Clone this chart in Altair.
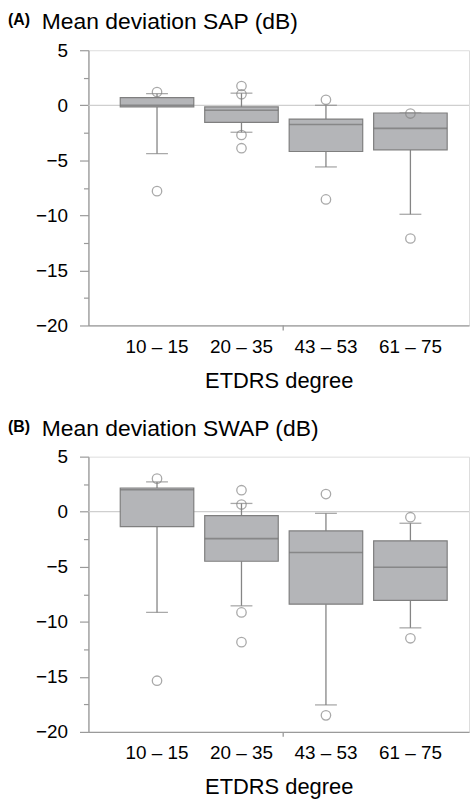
import altair as alt
import pandas as pd

categories = ["10 – 15", "20 – 35", "43 – 53", "61 – 75"]

# (A) SAP mean deviation, box statistics per ETDRS ring
sap_low = [-4.4, -2.45, -5.6, -9.9]
sap_q1 = [-0.15, -1.55, -4.2, -4.05]
sap_median = [0.0, -0.45, -1.75, -2.1]
sap_q3 = [0.7, -0.15, -1.25, -0.7]
sap_high = [1.05, 1.1, 0.0, -0.7]
sap_outlier_cat = ["10 – 15", "10 – 15", "20 – 35", "20 – 35", "20 – 35",
                   "20 – 35", "43 – 53", "43 – 53", "61 – 75", "61 – 75"]
sap_outlier_val = [1.2, -7.8, 1.75, 1.0, -2.7, -3.9, 0.5, -8.55, -0.75, -12.1]

# (B) SWAP mean deviation
swap_low = [-9.15, -8.55, -17.55, -10.55]
swap_q1 = [-1.35, -4.5, -8.4, -8.05]
swap_median = [2.0, -2.45, -3.7, -5.05]
swap_q3 = [2.15, -0.35, -1.75, -2.65]
swap_high = [2.7, 0.75, -0.15, -1.05]
swap_outlier_cat = ["10 – 15", "10 – 15", "20 – 35", "20 – 35", "20 – 35",
                    "20 – 35", "43 – 53", "43 – 53", "61 – 75", "61 – 75"]
swap_outlier_val = [3.0, -15.35, 1.95, 0.65, -9.15, -11.85, 1.6, -18.5, -0.5, -11.5]

y_ticks = [-20, -17.5, -15, -12.5, -10, -7.5, -5, -2.5, 0, 2.5, 5]

FONT = "Liberation Sans"
AXIS_GREY = "#9a9a9a"
LINE_GREY = "#858585"
W, H = 383, 277


def x_enc():
    return alt.X(
        "cat:N",
        sort=categories,
        scale=alt.Scale(paddingInner=0.1294, paddingOuter=0.3176, align=0.593),
        axis=alt.Axis(
            title="ETDRS degree", labelAngle=0, ticks=False, labelPadding=12,
            labelFontSize=19, titleFontSize=22, titleFontWeight="normal",
            titlePadding=14, domainColor=AXIS_GREY, domainWidth=1.3,
            labelColor="black", titleColor="black", labelFont=FONT, titleFont=FONT,
        ),
    )


def y_enc(field):
    return alt.Y(
        f"{field}:Q",
        scale=alt.Scale(domain=[-20, 5], nice=False, zero=False),
        axis=alt.Axis(
            title=None, values=y_ticks, grid=False, labelOverlap=False,
            labelExpr="datum.value % 5 === 0 ? datum.label : ''",
            tickSize={"condition": {"test": "datum.value % 5 === 0", "value": 9}, "value": 5},
            tickColor=AXIS_GREY, domainColor=AXIS_GREY, domainWidth=1.3, tickWidth=1.2,
            labelPadding=12, labelFontSize=19, labelColor="black", labelFont=FONT,
        ),
    )


def panel(letter, title, low, q1, med, q3, high, ocat, oval):
    stats = pd.DataFrame({"cat": categories, "low": low, "q1": q1,
                          "med": med, "q3": q3, "high": high})
    outliers = pd.DataFrame({"cat": ocat, "val": oval})
    base = alt.Chart(stats)

    zero = alt.Chart(pd.DataFrame({"z": [0]})).mark_rule(
        color="#cfcfcf", strokeWidth=1.3
    ).encode(y=y_enc("z"))

    lower = base.mark_rule(color=LINE_GREY, strokeWidth=1.3).encode(
        x=x_enc(), y=y_enc("low"), y2="q1:Q")
    upper = base.mark_rule(color=LINE_GREY, strokeWidth=1.3).encode(
        x=x_enc(), y=y_enc("q3"), y2="high:Q")
    cap_low = base.mark_tick(color=LINE_GREY, size=22, thickness=1.3).encode(
        x=x_enc(), y=y_enc("low"))
    cap_high = base.mark_tick(color=LINE_GREY, size=22, thickness=1.3).encode(
        x=x_enc(), y=y_enc("high"))
    box = base.mark_bar(fill="#b4b5b8", stroke="#7f7f7f", strokeWidth=1.2).encode(
        x=x_enc(), y=y_enc("q1"), y2="q3:Q")
    median = base.mark_tick(color="#737373", size=74, thickness=1.6).encode(
        x=x_enc(), y=y_enc("med"))
    points = alt.Chart(outliers).mark_point(
        shape="circle", filled=False, color=LINE_GREY, size=90, strokeWidth=1.3
    ).encode(x=x_enc(), y=y_enc("val"))

    # panel heading: small bold letter followed by the quantity name
    letter_text = alt.Chart(pd.DataFrame({"t": [letter]})).mark_text(
        font=FONT, fontSize=16, fontWeight="bold", align="left",
        baseline="alphabetic", color="black"
    ).encode(text="t:N", x=alt.value(-81), y=alt.value(-25))
    heading = alt.Chart(pd.DataFrame({"t": [title]})).mark_text(
        font=FONT, fontSize=23, align="left", baseline="alphabetic", color="black"
    ).encode(text="t:N", x=alt.value(-47), y=alt.value(-21))

    centre_tick = alt.Chart(pd.DataFrame({"t": [0]})).mark_rule(
        color=AXIS_GREY, strokeWidth=1.3
    ).encode(x=alt.value(196), y=alt.value(H), y2=alt.value(H + 5))

    return alt.layer(
        zero, lower, upper, cap_low, cap_high, box, median, points,
        letter_text, heading, centre_tick
    ).properties(width=W, height=H)


chart_a = panel("(A)", "Mean deviation SAP (dB)", sap_low, sap_q1, sap_median,
                sap_q3, sap_high, sap_outlier_cat, sap_outlier_val)
chart_b = panel("(B)", "Mean deviation SWAP (dB)", swap_low, swap_q1, swap_median,
                swap_q3, swap_high, swap_outlier_cat, swap_outlier_val)

chart = alt.vconcat(chart_a, chart_b, spacing=25).properties(
    padding={"left": 7, "top": 8, "right": 0, "bottom": 0}
).configure_view(stroke=None).configure(background="white")

chart.save("out.html", embed_options={"renderer": "svg", "actions": False})
